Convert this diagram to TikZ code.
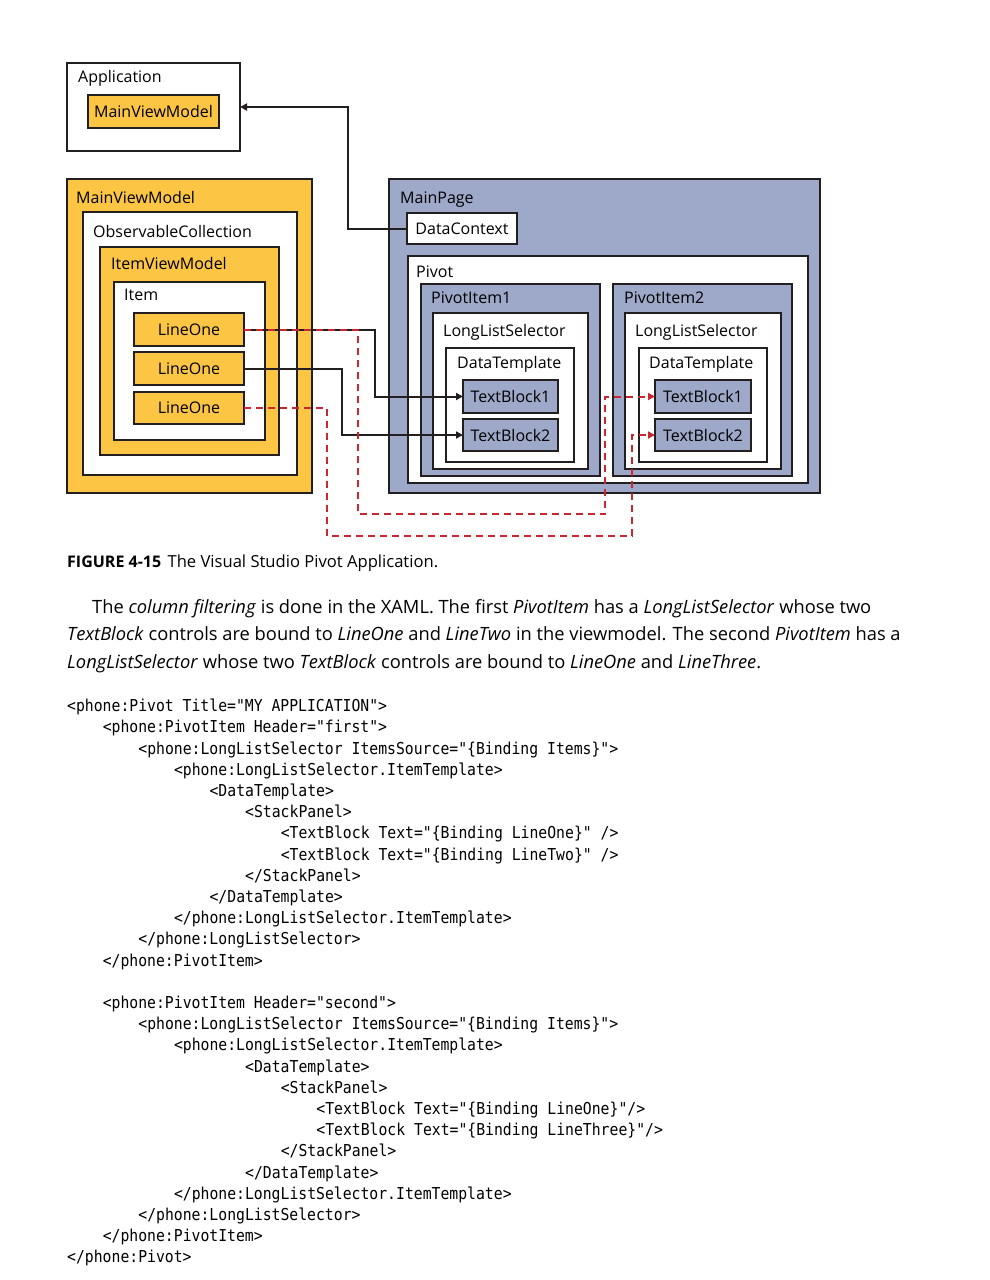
\documentclass[tikz,border=0pt]{standalone}
\usepackage{fontspec}
\setmainfont{Open Sans}
\newfontfamily\codefont[FakeStretch=0.9]{DejaVu Sans Mono}
\usetikzlibrary{arrows.meta}

\definecolor{mvorange}{RGB}{252,197,68}
\definecolor{pgblue}{RGB}{158,168,200}
\definecolor{edge}{RGB}{35,31,32}
\definecolor{bindred}{RGB}{200,38,48}

\newlength\indstep
\setlength\indstep{35.6pt}
\newcommand\xind[1]{\hspace*{#1\indstep}}

\tikzset{
  wh/.style 2 args={minimum width=#1pt, minimum height=#2pt},
  box/.style={draw=edge, line width=2pt, anchor=north west, inner sep=0pt, outer sep=0pt},
  obox/.style={box, fill=mvorange},
  bbox/.style={box, fill=pgblue},
  wbox/.style={box, fill=white},
  tag/.style={box, font=\fontsize{16}{19}\selectfont},
  lbl/.style={anchor=base west, inner sep=0pt, font=\fontsize{16}{19}\selectfont},
  link/.style={draw=edge, line width=2pt, -{Triangle[length=7pt,width=7pt]}},
  redlink/.style={link, draw=bindred, dash pattern=on 7pt off 5pt},
  para/.style={anchor=base west, inner sep=0pt, font=\fontsize{18.3}{22}\selectfont},
  code/.style={anchor=north west, inner sep=0pt, align=left, font=\codefont\fontsize{16.4}{21.2}\selectfont},
}

\begin{document}
\begin{tikzpicture}[x=1pt, y=-1pt]
\fill[white] (0,0) rectangle (989,1280);
\useasboundingbox (0,0) rectangle (989,1280);

% application
\node[wbox, wh={173}{88}] (app) at (67,63) {};
\node[lbl] (appL) at ([shift={(11,19)}]app.north west) {Application};
\node[tag, fill=mvorange, wh={131}{33}] (mvmS) at (88,95) {MainViewModel};

% view model
\node[obox, wh={245}{314}] (mvm) at (67,179) {};
\node[lbl] (mvmL) at ([shift={(9,24)}]mvm.north west) {MainViewModel};
\node[wbox, wh={214}{263}] (oc) at (83,212) {};
\node[lbl] (ocL) at ([shift={(10,25)}]oc.north west) {ObservableCollection};
\node[obox, wh={179}{208}] (ivm) at (100,247) {};
\node[lbl] (ivmL) at ([shift={(11,22)}]ivm.north west) {ItemViewModel};
\node[wbox, wh={151}{158}] (item) at (114,282) {};
\node[lbl] (itemL) at ([shift={(10,18)}]item.north west) {Item};
\node[tag, fill=mvorange, wh={110}{33}] (l1) at (134,313) {LineOne};
\node[tag, fill=mvorange, wh={110}{33}] (l2) at (134,352) {LineOne};
\node[tag, fill=mvorange, wh={110}{32}] (l3) at (134,392) {LineOne};

% main page
\node[bbox, wh={431}{314}] (page) at (389,179) {};
\node[lbl] (pageL) at ([shift={(11,24)}]page.north west) {MainPage};
\node[tag, fill=white, wh={110}{31}] (dc) at (407,213) {DataContext};
\node[wbox, wh={400}{227}] (pivot) at (408,256) {};
\node[lbl] (pivotL) at ([shift={(8,21)}]pivot.north west) {Pivot};

% first pivot item
\node[bbox, wh={179}{192}] (pi1) at (421,284) {};
\node[lbl] (pi1L) at ([shift={(10,19)}]pi1.north west) {PivotItem1};
\node[wbox, wh={155}{156}] (lls1) at (433,313) {};
\node[lbl] (lls1L) at ([shift={(10,23)}]lls1.north west) {LongListSelector};
\node[wbox, wh={128}{114}] (dt1) at (446,348) {};
\node[lbl] (dt1L) at ([shift={(11,20)}]dt1.north west) {DataTemplate};
\node[tag, fill=pgblue, wh={95}{33}] (tb11) at (463,380) {TextBlock1};
\node[tag, fill=pgblue, wh={95}{32}] (tb12) at (463,419) {TextBlock2};

% second pivot item
\node[bbox, wh={179}{192}] (pi2) at (613,284) {};
\node[lbl] (pi2L) at ([shift={(11,19)}]pi2.north west) {PivotItem2};
\node[wbox, wh={156}{156}] (lls2) at (625,313) {};
\node[lbl] (lls2L) at ([shift={(10,23)}]lls2.north west) {LongListSelector};
\node[wbox, wh={128}{114}] (dt2) at (639,348) {};
\node[lbl] (dt2L) at ([shift={(10,20)}]dt2.north west) {DataTemplate};
\node[tag, fill=pgblue, wh={96}{33}] (tb21) at (655,380) {TextBlock1};
\node[tag, fill=pgblue, wh={96}{32}] (tb22) at (655,419) {TextBlock2};

% bindings
\coordinate (dcbend) at (348,0);
\coordinate (k1) at (375,0);
\coordinate (k2) at (342,0);
\coordinate (r1) at (358,514);
\coordinate (r2) at (605,514);
\coordinate (r3) at (327,536);
\coordinate (r4) at (632,536);
\draw[link] (dc.west) -- (dc.west -| dcbend) |- (app.east);
\draw[link] (l1.east) -- (l1.east -| k1) |- (tb11.west);
\draw[link] (l2.east) -- (l2.east -| k2) |- (tb12.west);
\draw[redlink] (l1.east) -| (r1) -- (r2) |- (tb21.west);
\draw[redlink] (l3.east) -| (r3) -- (r4) |- (tb22.west);

% caption and text
\node[anchor=base west, inner sep=0pt, font=\bfseries\fontsize{16}{19}\selectfont] (fig) at (67,567) {FIGURE 4-15};
\node[anchor=base west, inner sep=0pt, font=\fontsize{16.6}{19}\selectfont] (cap) at ([xshift=6pt]fig.base east) {The Visual Studio Pivot Application.};
\node[para] (p1) at (92,613) {The \textit{column filtering} is done in the XAML. The first \textit{PivotItem} has a \textit{LongListSelector} whose two};
\node[para] (p2) at (67,640) {\textit{TextBlock} controls are bound to \textit{LineOne} and \textit{LineTwo} in the viewmodel. The second \textit{PivotItem} has a};
\node[para] (p3) at (67,668) {\textit{LongListSelector} whose two \textit{TextBlock} controls are bound to \textit{LineOne} and \textit{LineThree}.};

% xaml
\node[code] (xaml) at (67,699) {<phone:Pivot Title="MY APPLICATION">\\
\xind{1}<phone:PivotItem Header="first">\\
\xind{2}<phone:LongListSelector ItemsSource="\{Binding Items\}">\\
\xind{3}<phone:LongListSelector.ItemTemplate>\\
\xind{4}<DataTemplate>\\
\xind{5}<StackPanel>\\
\xind{6}<TextBlock Text="\{Binding LineOne\}" />\\
\xind{6}<TextBlock Text="\{Binding LineTwo\}" />\\
\xind{5}</StackPanel>\\
\xind{4}</DataTemplate>\\
\xind{3}</phone:LongListSelector.ItemTemplate>\\
\xind{2}</phone:LongListSelector>\\
\xind{1}</phone:PivotItem>\\[21.2pt]
\xind{1}<phone:PivotItem Header="second">\\
\xind{2}<phone:LongListSelector ItemsSource="\{Binding Items\}">\\
\xind{3}<phone:LongListSelector.ItemTemplate>\\
\xind{5}<DataTemplate>\\
\xind{6}<StackPanel>\\
\xind{7}<TextBlock Text="\{Binding LineOne\}"/>\\
\xind{7}<TextBlock Text="\{Binding LineThree\}"/>\\
\xind{6}</StackPanel>\\
\xind{5}</DataTemplate>\\
\xind{3}</phone:LongListSelector.ItemTemplate>\\
\xind{2}</phone:LongListSelector>\\
\xind{1}</phone:PivotItem>\\
</phone:Pivot>};

\end{tikzpicture}
\end{document}
